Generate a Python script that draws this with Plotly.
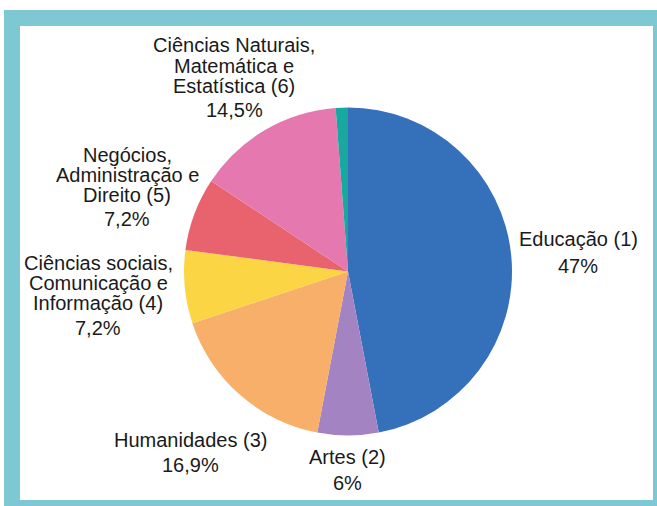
import plotly.graph_objects as go

W, H = 657, 506

categories = ["Educação (1)", "Artes (2)", "Humanidades (3)",
              "Ciências sociais, Comunicação e Informação (4)",
              "Negócios, Administração e Direito (5)",
              "Ciências Naturais, Matemática e Estatística (6)", "Outros"]
values = [47, 6, 16.9, 7.2, 7.2, 14.5, 1.2]
pct_labels = ["47%", "6%", "16,9%", "7,2%", "7,2%", "14,5%", ""]
label_lines = [
    ["Educação (1)"],
    ["Artes (2)"],
    ["Humanidades (3)"],
    ["Ciências sociais,", "Comunicação e", "Informação (4)"],
    ["Negócios,", "Administração e", "Direito (5)"],
    ["Ciências Naturais,", "Matemática e", "Estatística (6)"],
    [],
]
colors = ["#3570bb", "#a383c2", "#f7af6a", "#fcd545", "#e9636e", "#e678b0", "#19a89f"]

# label block placement (pixels): center x, first line y, line step, percent y
label_pos = [
    (578, 239, 21, 266),
    (347, 457, 21, 483),
    (190, 440, 21, 465),
    (98, 263, 20, 328),
    (127, 155, 20, 219),
    (234, 45, 20.5, 110),
    None,
]

fig = go.Figure(go.Pie(
    labels=categories, values=values, sort=False, direction="clockwise",
    rotation=0, textinfo="none", hoverinfo="label+percent",
    marker=dict(colors=colors, line=dict(width=0)),
    domain=dict(x=[(348 - 164) / W, (348 + 164) / W],
                y=[1 - 435.5 / H, 1 - 107.5 / H]),
    showlegend=False,
))

font = dict(family="Liberation Sans, Arial, sans-serif", size=20, color="#1a1a1a")
annotations = []
for lines, pct, pos in zip(label_lines, pct_labels, label_pos):
    if pos is None:
        continue
    cx, y0, step, py = pos
    for i, ln in enumerate(lines):
        annotations.append(dict(x=cx / W, y=1 - (y0 + i * step) / H, xref="paper", yref="paper",
                                text=ln, showarrow=False, font=font,
                                xanchor="center", yanchor="middle"))
    annotations.append(dict(x=cx / W, y=1 - py / H, xref="paper", yref="paper",
                            text=pct, showarrow=False, font=font,
                            xanchor="center", yanchor="middle"))

shapes = [
    dict(type="rect", xref="paper", yref="paper", x0=4 / W, x1=1, y0=0, y1=1 - 10 / H,
         fillcolor="#7ec8d3", line=dict(width=0), layer="below"),
    dict(type="rect", xref="paper", yref="paper", x0=20 / W, x1=653 / W, y0=1 - 500 / H, y1=1 - 26 / H,
         fillcolor="#ffffff", line=dict(width=0), layer="below"),
]

fig.update_layout(
    width=W, height=H, margin=dict(l=0, r=0, t=0, b=0),
    paper_bgcolor="#ffffff", plot_bgcolor="#ffffff",
    annotations=annotations, shapes=shapes,
)
fig.write_html("out.html", config={"displayModeBar": False},
               post_script="document.body.style.margin='0px';document.body.style.overflow='hidden';")
